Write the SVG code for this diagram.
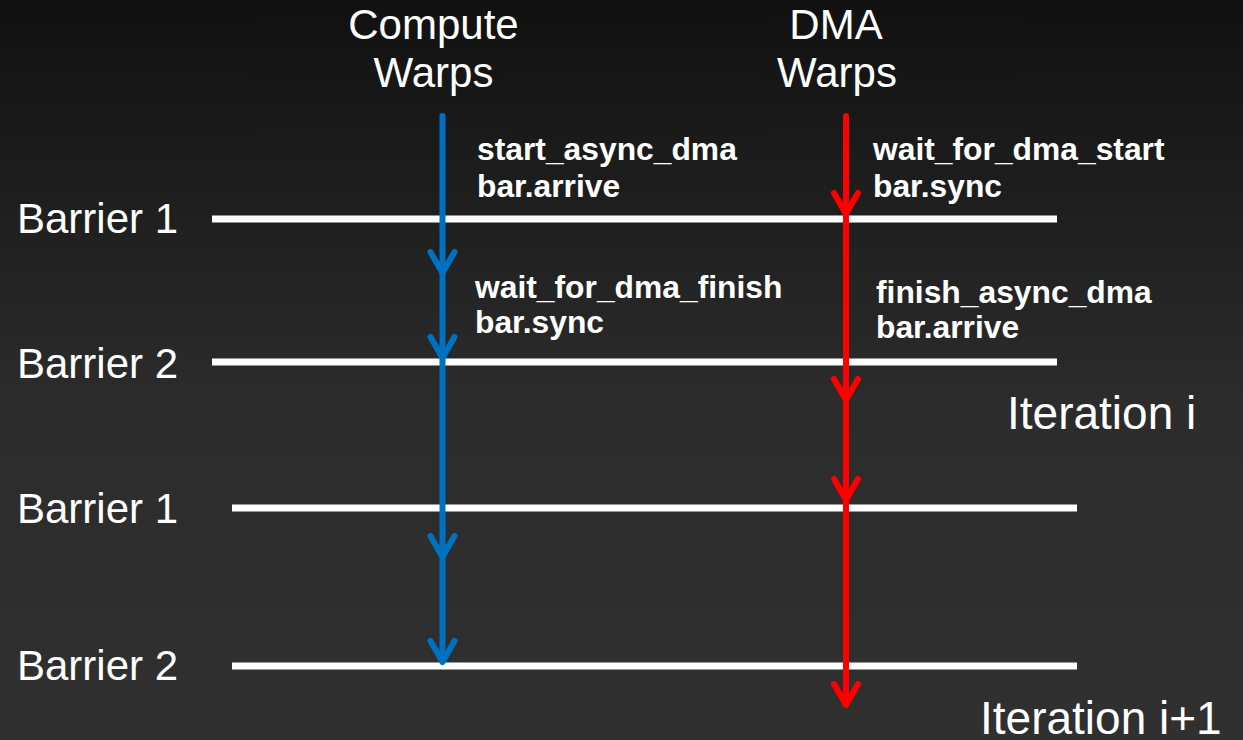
<svg xmlns="http://www.w3.org/2000/svg" width="1243" height="740" viewBox="0 0 1243 740">
<defs>
<linearGradient id="bg" x1="0" y1="0" x2="0" y2="1">
<stop offset="0" stop-color="#111111"/>
<stop offset="0.55" stop-color="#2c2c2c"/>
<stop offset="1" stop-color="#303030"/>
</linearGradient>
<style>
.big{font-family:"Liberation Sans",Arial,sans-serif;font-size:42px;fill:#ffffff}
.iter{font-family:"Liberation Sans",Arial,sans-serif;font-size:46px;fill:#ffffff}
.lbl{font-family:"Liberation Sans",Arial,sans-serif;font-size:31.8px;font-weight:bold;fill:#ffffff}
.bar{stroke:#ffffff;stroke-width:7;fill:none}
.blue{stroke:#0070C0;stroke-width:6;fill:none;stroke-linecap:round;stroke-linejoin:round}
.red{stroke:#FF0000;stroke-width:6;fill:none;stroke-linecap:round;stroke-linejoin:round}
</style>
</defs>
<rect x="0" y="0" width="1243" height="740" fill="url(#bg)"/>
<g id="headers">
<text class="big" x="433.5" y="39" text-anchor="middle">Compute</text>
<text class="big" x="433.5" y="87" text-anchor="middle">Warps</text>
<text class="big" x="836" y="39" text-anchor="middle">DMA</text>
<text class="big" x="837" y="87" text-anchor="middle">Warps</text>
</g>
<g id="barriers">
<line class="bar" x1="212" y1="219" x2="1057" y2="219"/>
<line class="bar" x1="212" y1="362" x2="1057" y2="362"/>
<line class="bar" x1="232" y1="508" x2="1077" y2="508"/>
<line class="bar" x1="232" y1="666" x2="1077" y2="666"/>
<text class="big" x="17" y="233">Barrier 1</text>
<text class="big" x="17" y="378">Barrier 2</text>
<text class="big" x="17" y="523">Barrier 1</text>
<text class="big" x="17" y="680">Barrier 2</text>
</g>
<g id="iterations">
<text class="iter" x="1007" y="429">Iteration i</text>
<text class="iter" x="980" y="734">Iteration i+1</text>
</g>
<g id="labels">
<text class="lbl" x="477" y="160">start_async_dma</text>
<text class="lbl" x="477" y="197">bar.arrive</text>
<text class="lbl" x="873" y="160">wait_for_dma_start</text>
<text class="lbl" x="873" y="197">bar.sync</text>
<text class="lbl" x="475" y="298">wait_for_dma_finish</text>
<text class="lbl" x="475" y="333">bar.sync</text>
<text class="lbl" x="876" y="303">finish_async_dma</text>
<text class="lbl" x="876" y="338">bar.arrive</text>
</g>
<g id="connectors">
<path class="blue" d="M442.5,116 V273 M430.5,252 L442.5,273 L454.5,252"/>
<path class="blue" d="M442.5,273 V358 M430.5,337 L442.5,358 L454.5,337"/>
<path class="blue" d="M442.5,358 V557 M430.5,536 L442.5,557 L454.5,536"/>
<path class="blue" d="M442.5,557 V662 M430.5,641 L442.5,662 L454.5,641"/>
<path class="red" d="M846,116 V214 M834,193 L846,214 L858,193"/>
<path class="red" d="M846,214 V400 M834,379 L846,400 L858,379"/>
<path class="red" d="M846,400 V500 M834,479 L846,500 L858,479"/>
<path class="red" d="M846,500 V705 M834,684 L846,705 L858,684"/>
</g>
</svg>
